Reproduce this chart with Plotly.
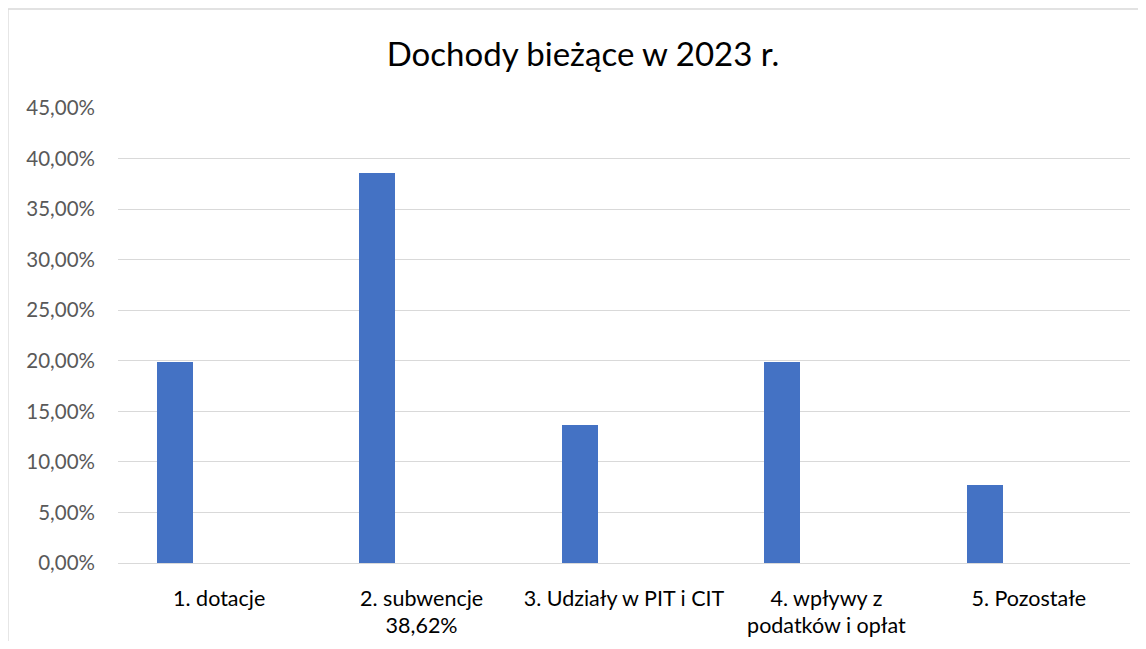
import plotly.graph_objects as go

categories = ["1. dotacje", "2. subwencje<br>38,62%", "3. Udziały w PIT i CIT",
              "4. wpływy z<br>podatków i opłat", "5. Pozostałe"]
values = [19.90, 38.62, 13.65, 19.90, 7.75]
tick_vals = [0, 5, 10, 15, 20, 25, 30, 35, 40, 45]
tick_text = ["0,00%", "5,00%", "10,00%", "15,00%", "20,00%", "25,00%",
             "30,00%", "35,00%", "40,00%", "45,00%"]
title_text = "Dochody bieżące w 2023 r."

# page body has an 8px margin; figure coordinates are screen minus 8
W, H = 1130, 633
L, T = 110, 100
R = W - 1122
B = H - 555
pw, ph = W - L - R, H - T - B

def px(x):
    return (x - L) / pw

def py(y):
    return (H - B - y) / ph

fig = go.Figure()
fig.add_trace(go.Bar(
    x=categories, y=values,
    marker=dict(color="#4472C4", line=dict(width=0)),
    width=0.178, offset=-0.307,
    hoverinfo="skip",
))

fig.update_layout(
    width=W, height=H,
    margin=dict(l=L, r=R, t=T, b=B, autoexpand=False),
    paper_bgcolor="white", plot_bgcolor="white",
    showlegend=False,
    font=dict(family="Lato, Calibri, sans-serif", color="#000000"),
    title=dict(text=title_text, x=575 / W, xref="container", xanchor="center",
               y=1 - 46 / H, yref="container", yanchor="middle",
               font=dict(size=33, color="#000000")),
    bargap=0,
    xaxis=dict(type="category", showgrid=False, showline=False, zeroline=False,
               automargin=False,
               ticks="", tickfont=dict(size=21.5, color="#000000"),
               ticklabelstandoff=20, range=[-0.5, 4.5], fixedrange=True),
    yaxis=dict(range=[0, 45], tickvals=tick_vals, ticktext=tick_text,
               automargin=False,
               showgrid=True, gridcolor="#D9D9D9", gridwidth=1.3,
               zeroline=True, zerolinecolor="#D9D9D9", zerolinewidth=1.3,
               showline=False, ticks="",
               tickfont=dict(size=20.5, color="#595959"),
               ticklabelstandoff=22, fixedrange=True),
    shapes=[
        dict(type="line", xref="paper", yref="paper",
             x0=px(0), x1=px(W + 5), y0=py(1), y1=py(1),
             line=dict(color="#D9D9D9", width=1.3)),
        dict(type="line", xref="paper", yref="paper",
             x0=px(0), x1=px(0), y0=py(1), y1=py(H + 5),
             line=dict(color="#D9D9D9", width=1.3)),
    ],
)

fig.write_html("out.html", config={"displayModeBar": False})
